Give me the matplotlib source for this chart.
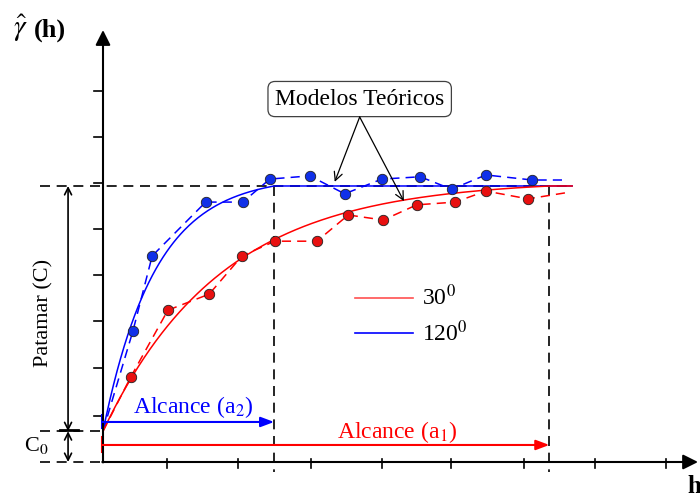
import numpy as np
import matplotlib.pyplot as plt

plt.rcParams['font.family'] = ['Liberation Serif', 'DejaVu Serif']
plt.rcParams['mathtext.fontset'] = 'stix'

# experimental semivariogram points (h, gamma)
blue_h = [0.42, 0.69, 1.44, 1.96, 2.34, 2.90, 3.39, 3.91, 4.45, 4.89, 5.37, 6.02]
blue_g = [2.85, 4.48, 5.65, 5.65, 6.15, 6.22, 5.83, 6.15, 6.20, 5.93, 6.24, 6.13]
red_h = [0.39, 0.91, 1.49, 1.95, 2.41, 3.00, 3.44, 3.93, 4.40, 4.94, 5.37, 5.96]
red_g = [1.85, 3.30, 3.65, 4.48, 4.80, 4.80, 5.37, 5.26, 5.59, 5.65, 5.89, 5.72]
# end of the dashed experimental lines
blue_end = (6.48, 6.13)
red_end = (6.48, 5.85)

# model parameters
c0 = 0.67          # efeito pepita
sill = 6.0         # patamar total
a_blue = 2.40      # alcance a2 (120 graus)
a_red = 6.26       # alcance a1 (30 graus)
shape_blue = 2.2
shape_red = 5.0
h_max = 6.58

xticks = [0.90, 1.89, 2.92, 3.91, 4.88, 5.90, 6.90, 7.90]
yticks = [1.0, 2.04, 3.07, 4.07, 5.07, 6.07, 7.07, 8.07]

BLUE = '#0000ff'
RED = '#ff0000'
FS = 17


def model(h, a, s):
    g = c0 + (sill - c0) * (1 - np.exp(-3 * h / s)) / (1 - np.exp(-3 * a / s))
    return np.where(h < a, g, sill)


fig = plt.figure(figsize=(7, 4.98), dpi=100)
ax = fig.add_axes([0, 0, 1, 1])
ax.set_xlim(-1.4446, 8.373)
ax.set_ylim(-0.7826, 10.043)
ax.axis('off')

# axes with arrows
ax.annotate('', xy=(0, 9.39), xytext=(0, -0.01),
            arrowprops=dict(arrowstyle='-|>,head_length=0.9,head_width=0.45',
                            color='black', lw=1.5, shrinkA=0, shrinkB=0))
ax.annotate('', xy=(8.345, 0), xytext=(-0.01, 0),
            arrowprops=dict(arrowstyle='-|>,head_length=0.9,head_width=0.45',
                            color='black', lw=1.5, shrinkA=0, shrinkB=0))
for t in yticks:
    ax.plot([-0.12, 0], [t, t], color='black', lw=1.2)
for t in xticks:
    ax.plot([t, t], [0.07, -0.13], color='black', lw=1.2)

# reference dashed lines
dash = dict(color='black', lw=1.2, dashes=(6, 4))
ax.plot([-0.884, h_max], [sill, sill], **dash)
ax.plot([-0.884, 0], [c0, c0], **dash)
ax.plot([-0.884, 0], [0, 0], **dash)
ax.plot([a_blue, a_blue], [sill, -0.22], **dash)
ax.plot([a_red, a_red], [sill, -0.22], **dash)

# patamar and pepita arrows
ax.annotate('', xy=(-0.49, sill), xytext=(-0.49, c0),
            arrowprops=dict(arrowstyle='<->,head_length=0.5,head_width=0.25',
                            color='black', lw=1.2, shrinkA=0, shrinkB=0))
ax.annotate('', xy=(-0.49, c0), xytext=(-0.49, 0),
            arrowprops=dict(arrowstyle='<->,head_length=0.5,head_width=0.25',
                            color='black', lw=1.2, shrinkA=0, shrinkB=0))
ax.plot([-0.60, -0.35], [c0 + 0.03, c0 + 0.03], color='black', lw=2)
ax.text(-0.827, 3.24, 'Patamar (C)', rotation=90, ha='center', va='center',
        fontsize=FS - 1)
ax.text(-0.94, 0.35, r'C$_0$', ha='center', va='center', fontsize=FS - 1)

# models
hh = np.linspace(0, h_max, 400)
ax.plot(hh, model(hh, a_blue, shape_blue), color=BLUE, lw=1.1)
ax.plot(hh, model(hh, a_red, shape_red), color=RED, lw=1.1)

# experimental dashed lines and points
ax.plot([0] + blue_h + [blue_end[0]], [c0] + blue_g + [blue_end[1]],
        color=BLUE, lw=1.1, dashes=(6, 4))
ax.plot([0] + red_h + [red_end[0]], [c0] + red_g + [red_end[1]],
        color=RED, lw=1.1, dashes=(6, 4))
ax.plot(blue_h, blue_g, 'o', color='#1030e8', mec='#202020', mew=0.6, ms=7.5,
        zorder=5)
ax.plot(red_h, red_g, 'o', color='#e81010', mec='#202020', mew=0.6, ms=7.5,
        zorder=5)

# ranges
ax.annotate('', xy=(a_blue, 0.87), xytext=(-0.01, 0.87),
            arrowprops=dict(arrowstyle='-|>,head_length=0.8,head_width=0.3',
                            color=BLUE, lw=1.5, shrinkA=0, shrinkB=0))
ax.plot([-0.02, -0.02], [0.74, 1.02], color=BLUE, lw=1.5)
ax.annotate('', xy=(a_red, 0.37), xytext=(-0.01, 0.37),
            arrowprops=dict(arrowstyle='-|>,head_length=0.8,head_width=0.3',
                            color=RED, lw=1.5, shrinkA=0, shrinkB=0))
ax.plot([-0.02, -0.02], [0.22, 0.54], color=RED, lw=1.5)
ax.text(1.27, 1.20, r'Alcance (a$_2$)', color=BLUE, ha='center', va='center',
        fontsize=FS)
ax.text(4.13, 0.65, r'Alcance (a$_1$)', color=RED, ha='center', va='center',
        fontsize=FS)

# legend
ax.plot([3.53, 4.35], [3.57, 3.57], color='#ff5050', lw=1.2)
ax.plot([3.53, 4.35], [2.80, 2.80], color=BLUE, lw=1.2)
ax.text(4.47, 3.57, r'30$^0$', ha='left', va='center', fontsize=FS)
ax.text(4.47, 2.80, r'120$^0$', ha='left', va='center', fontsize=FS)

# callout
ax.text(3.60, 7.89, 'Modelos Teóricos', ha='center', va='center', fontsize=FS,
        bbox=dict(boxstyle='round,pad=0.3', fc='white', ec='#404040', lw=0.9))
for end in [(3.25, 6.09), (4.22, 5.67)]:
    ax.annotate('', xy=end, xytext=(3.60, 7.50),
                arrowprops=dict(arrowstyle='->,head_length=0.6,head_width=0.3',
                                color='black', lw=0.9, shrinkA=0, shrinkB=0))

# axis labels
ax.text(-1.16, 9.42, r'$\hat{\gamma}$', ha='center', va='center', fontsize=21)
ax.text(-0.97, 9.39, '(h)', ha='left', va='center', fontsize=19,
        fontweight='bold')
ax.text(8.20, -0.54, 'h', ha='left', va='center', fontsize=18,
        fontweight='bold')

fig.savefig('out.png', dpi=100)
